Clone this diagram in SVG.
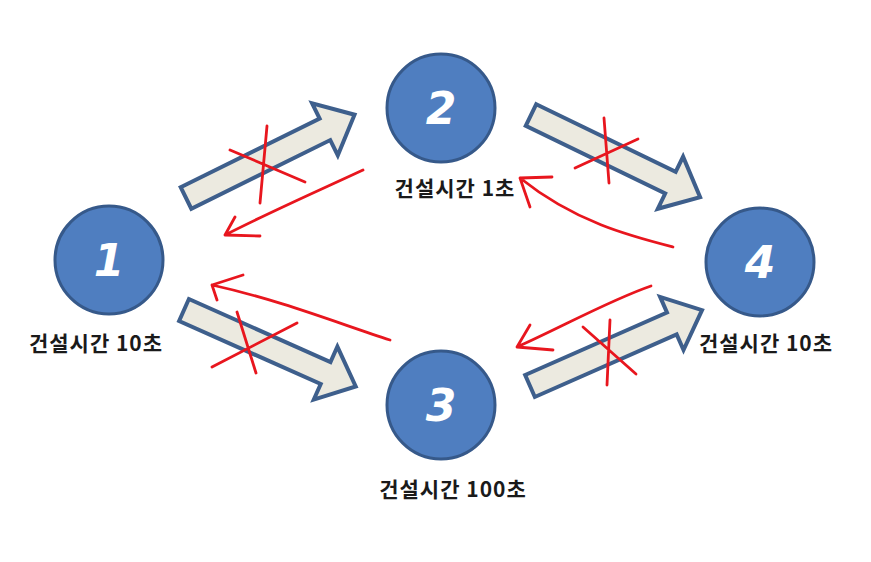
<svg xmlns="http://www.w3.org/2000/svg" width="871" height="562" viewBox="0 0 871 562">
<style>
.node circle{fill:#4F7EC0;stroke:#36598A;stroke-width:3}
.num{fill:#fff;font-family:"DejaVu Sans",sans-serif;font-style:italic;font-weight:bold;font-size:44px;text-anchor:middle}
.lbl{fill:#1a1a1a;font-family:"Noto Sans CJK KR",sans-serif;font-weight:bold;font-size:21px;letter-spacing:1px;text-anchor:middle}
.blk{fill:#ECEAE0;stroke:#3E5F8C;stroke-width:4;stroke-linejoin:miter}
.red{fill:none;stroke:#E8161E;stroke-width:2.8;stroke-linecap:round;stroke-linejoin:round}
</style>
<defs>
<path id="ba" d="M0,-12 L155,-12 L155,-29 L188,0 L155,29 L155,12 L0,12 Z"/>
</defs>
<rect width="871" height="562" fill="#fff"/>
<g id="connectors">
<use href="#ba" class="blk" transform="translate(186,198) rotate(-26.3)"/>
<use href="#ba" class="blk" transform="translate(531,115) rotate(25.9)"/>
<use href="#ba" class="blk" transform="translate(184,310) rotate(24)"/>
<use href="#ba" class="blk" transform="translate(530,386) rotate(-23.8)"/>
<g class="red">
<path d="M230,150 L305,182 M267,126 L260,203"/>
<path d="M363,170 C320,190 270,212 225,235 M235,217 L225,235 L260,236"/>
<path d="M575,168 L638,139 M604,118 L609,183"/>
<path d="M673,247 C630,236 575,222 520,178 M552,177 L520,178 L530,207"/>
<path d="M212,367 L297,323 M237,312 L256,373"/>
<path d="M390,340 C340,324 280,300 212,285 M243,275 L212,285 L217,300"/>
<path d="M583,327 L636,374 M610,320 L607,385"/>
<path d="M651,286 C610,300 560,328 517,347 M530,325 L517,347 L553,350"/>
</g>
</g>
<g id="node1" class="node"><circle cx="109" cy="260" r="54"/><text class="num" x="109" y="276">1</text><text class="lbl" x="96" y="351">건설시간 10초</text></g>
<g id="node2" class="node"><circle cx="441" cy="108" r="54"/><text class="num" x="441" y="124">2</text><text class="lbl" x="455" y="196">건설시간 1초</text></g>
<g id="node3" class="node"><circle cx="441" cy="405" r="54"/><text class="num" x="441" y="421">3</text><text class="lbl" x="453" y="497">건설시간 100초</text></g>
<g id="node4" class="node"><circle cx="760" cy="262" r="54"/><text class="num" x="760" y="278">4</text><text class="lbl" x="766" y="351">건설시간 10초</text></g>
</svg>
